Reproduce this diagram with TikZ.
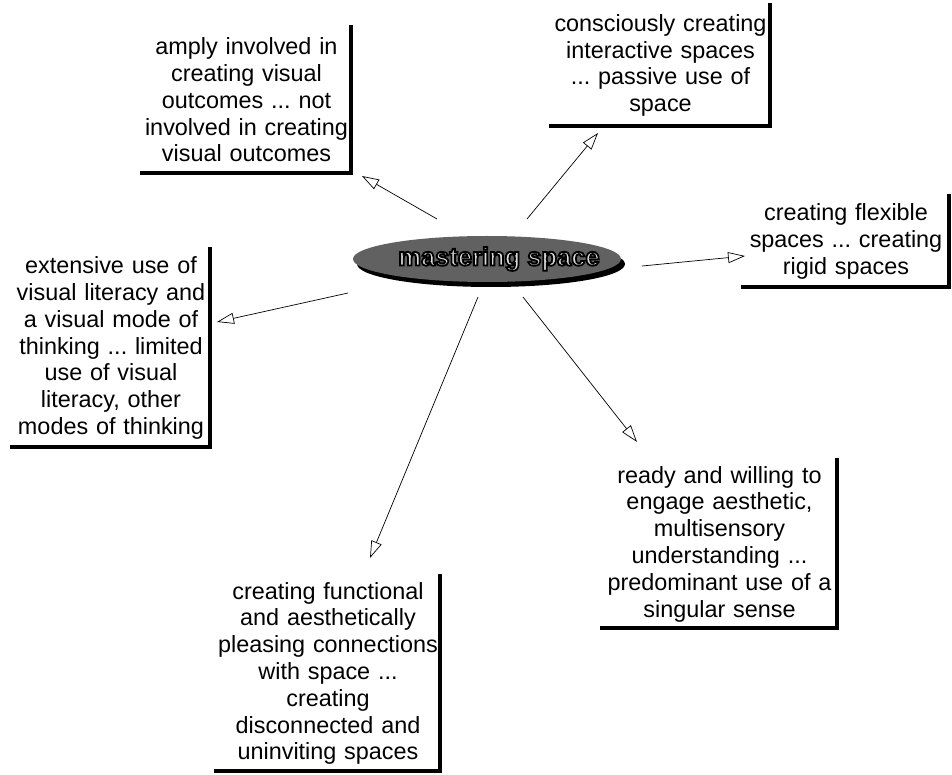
\documentclass[tikz,border=0pt]{standalone}
\usepackage{fontspec}
\setmainfont{Liberation Sans}
\usetikzlibrary{arrows.meta,shapes.geometric}

\newcommand\labelfont{\fontsize{23.4}{26.8}\selectfont}
% outlined lettering: fill light grey, stroke black (PDF text render mode 2)
\newcommand\outlinedtext[1]{%
  \special{pdf:code q 2 Tr 1.8 w 0 0 0 RG 0.85 g}#1\special{pdf:code Q}}
\frenchspacing

\begin{document}
\begin{tikzpicture}[x=1pt,y=-1pt,
  idea/.style 2 args={font=\labelfont, align=center, inner sep=0pt,
    text width=#1, minimum width=#1, minimum height=#2},
  frameline/.style={line width=4pt, line cap=rect, line join=miter},
  link/.style={line width=0.7pt,
    -{Triangle[open, length=17pt, width=11pt, line width=0.7pt]}},
  hub/.style={ellipse, fill=black!62, minimum width=268pt, minimum height=46pt,
    inner sep=0pt}
]
\useasboundingbox (0,0) rectangle (952,775);

% central topic with its shadow
\fill[black] (491,264) ellipse [x radius=134pt, y radius=23pt];
\node[hub] (hub) at (487,259) {};
\node[font=\bfseries\fontsize{25.5}{28}\selectfont, inner sep=0pt] (hubtext) at (499,259)
  {\outlinedtext{mastering space}};

% the six poles
\node[idea={209pt}{146pt}] (b1) at (246.5,100)
  {amply involved in\\creating visual\\outcomes ... not\\involved in creating\\visual outcomes};
\node[idea={219pt}{121pt}] (b2) at (660.5,65.5)
  {consciously creating\\interactive spaces\\... passive use of\\space};
\node[idea={206pt}{91pt}] (b3) at (846,241.5)
  {creating flexible\\spaces ... creating\\rigid spaces};
\node[idea={198pt}{198pt}] (b4) at (111,348)
  {extensive use of\\visual literacy and\\a visual mode of\\thinking ... limited\\use of visual\\literacy, other\\modes of thinking};
\node[idea={235pt}{168pt}] (b5) at (719.5,544)
  {ready and willing to\\engage aesthetic,\\multisensory\\understanding ...\\predominant use of a\\singular sense};
\node[idea={224pt}{195pt}] (b6) at (328,673.5)
  {creating functional\\and aesthetically\\pleasing connections\\with space ...\\creating\\disconnected and\\uninviting spaces};

% right and bottom rules of each pole
\foreach \b in {b1,b2,b3,b4,b5,b6}
  \draw[frameline] (\b.north east) -- (\b.south east) -- (\b.south west);

% connector end points
\coordinate (s1) at (437,219);  \coordinate (t1) at (362,176);
\coordinate (s2) at (527,219);  \coordinate (t2) at (598,133);
\coordinate (s3) at (642,266);  \coordinate (t3) at (745,256);
\coordinate (s4) at (348,293);  \coordinate (t4) at (217,322);
\coordinate (s5) at (523,297);  \coordinate (t5) at (637,442);
\coordinate (s6) at (478,297);  \coordinate (t6) at (370,558);

\draw[link] (s1) -- (t1);
\draw[link] (s2) -- (t2);
\draw[link] (s3) -- (t3);
\draw[link] (s4) -- (t4);
\draw[link] (s5) -- (t5);
\draw[link] (s6) -- (t6);
\end{tikzpicture}
\end{document}
